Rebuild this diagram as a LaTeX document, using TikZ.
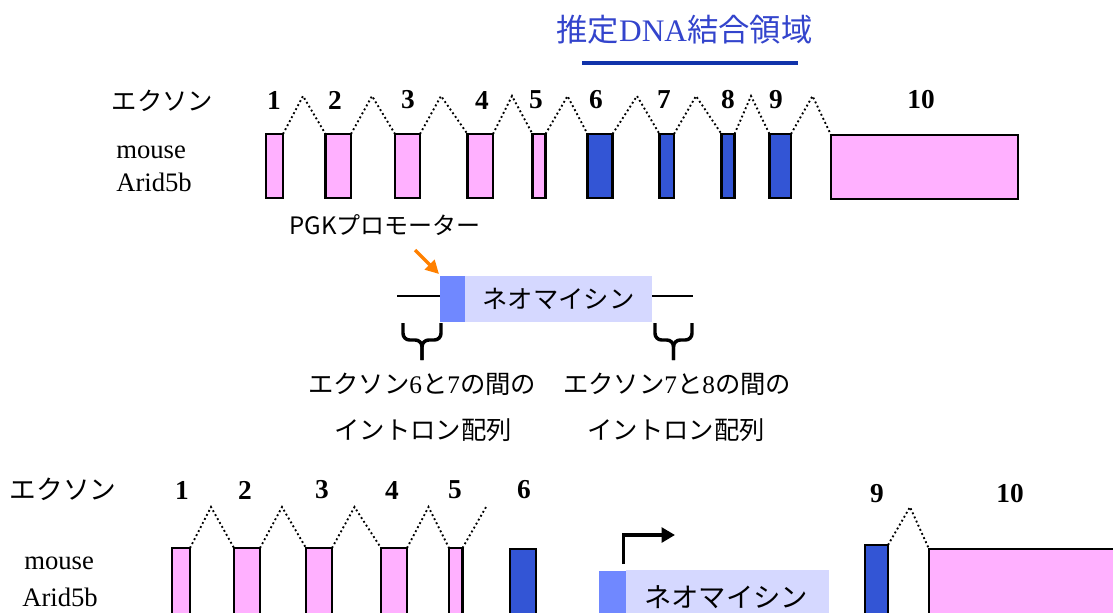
\documentclass[tikz,border=0pt]{standalone}
\usepackage{fontspec}
\setmainfont{Liberation Serif}
\newfontfamily\jp{Noto Sans CJK JP}
\usetikzlibrary{arrows.meta}
\definecolor{exonpink}{HTML}{FFB0FF}
\definecolor{exonblue}{HTML}{3355D5}
\definecolor{neodark}{HTML}{7088FF}
\definecolor{neolight}{HTML}{D5D8FF}
\definecolor{titleblue}{HTML}{3344CC}
\definecolor{lineblue}{HTML}{1133AA}
\definecolor{arroworange}{HTML}{FF8000}
\newcommand{\mkexon}[6]{\node[exon,fill=#6,minimum width={(#3-#2)*0.75pt},minimum height={(#5-#4)*0.75pt}] (#1) at ({(#2+#3)/2},{(#4+#5)/2}) {};}
\newcommand{\mkrect}[7]{\node[#7,minimum width={(#3-#2)*0.75pt},minimum height={(#5-#4)*0.75pt}] (#1) at ({(#2+#3)/2},{(#4+#5)/2}) {#6};}
\begin{document}
\begin{tikzpicture}[x=0.75pt,y=-0.75pt,
  exon/.style={draw=black,line width=1.9pt,inner sep=0pt,outer sep=0pt},
  intron/.style={line width=1.4pt,dash pattern=on 1.4pt off 2pt},
  num/.style={font=\bfseries\fontsize{20.5pt}{20pt}\selectfont,inner sep=0pt},
  jptext/.style={font=\jp\fontsize{19pt}{22pt}\selectfont,inner sep=0pt},
  latin/.style={font=\fontsize{20pt}{22pt}\selectfont,inner sep=0pt},
  neod/.style={fill=neodark,inner sep=0pt,outer sep=0pt},
  neol/.style={fill=neolight,inner sep=0pt,outer sep=0pt,font=\jp\fontsize{19pt}{22pt}\selectfont},
  bar/.style={line width=2.2pt},
  bracepart/.style={line width=2.6pt,rounded corners=5pt}]
\useasboundingbox (0,0) rectangle (1113,612);
\clip (0,0) rectangle (1113,612);

% title
\node[font=\fontsize{23.5pt}{26pt}\selectfont,text=titleblue,inner sep=0pt] (title) at (684.5,30) {{\jp 推定}DNA{\jp 結合領域}};
\coordinate (ul1) at (582,63);
\coordinate (ul2) at (798,63);
\draw[lineblue,line width=2.3pt] (ul1) -- (ul2);

% top row labels
\node[jptext] (exlabel1) at (162.5,101) {エクソン};
\node[latin,anchor=base west] (mouse1) at (116,158) {mouse};
\node[latin,anchor=base west] (arid1) at (116,191) {Arid5b};
\foreach \n/\x in {1/274,2/335,3/408,4/482,5/536,6/596,7/664,8/728,9/776,10/921}
  \node[num] (tn\n) at (\x,100) {\n};

% top exons
\mkexon{t1}{266}{283}{134}{198}{exonpink}
\mkexon{t2}{325.5}{351}{134}{198}{exonpink}
\mkexon{t3}{395}{420}{134}{198}{exonpink}
\mkexon{t4}{467.5}{493}{134}{198}{exonpink}
\mkexon{t5}{532.5}{545.5}{134}{198}{exonpink}
\mkexon{t6}{587.5}{612.5}{134}{198}{exonblue}
\mkexon{t7}{659.5}{674}{134}{198}{exonblue}
\mkexon{t8}{721.5}{734.5}{134}{198}{exonblue}
\mkexon{t9}{769.5}{791}{134}{198}{exonblue}
\mkexon{t10}{831}{1018}{135}{199}{exonpink}

\draw[intron] (t1.north east) -- (303,96) -- (t2.north west);
\draw[intron] (t2.north east) -- (372,96) -- (t3.north west);
\draw[intron] (t3.north east) -- (441,96) -- (t4.north west);
\draw[intron] (t4.north east) -- (512,96) -- (t5.north west);
\draw[intron] (t5.north east) -- (567.5,96) -- (t6.north west);
\draw[intron] (t6.north east) -- (637,96) -- (t7.north west);
\draw[intron] (t7.north east) -- (696,96) -- (t8.north west);
\draw[intron] (t8.north east) -- (751,96) -- (t9.north west);
\draw[intron] (t9.north east) -- (812.5,96) -- (t10.north west);

% PGK promoter construct
\node[jptext,font=\jp\fontsize{18pt}{20pt}\selectfont] (pgk) at (385,225) {PGKプロモーター};
\mkrect{nd}{440}{465}{276}{322}{}{neod}
\mkrect{nl}{465}{652}{276}{322}{ネオマイシン}{neol}
\coordinate (ll) at (397,296);
\coordinate (rl) at (693,296);
\draw[bar] (ll) -- (nd.west |- ll);
\draw[bar] (nl.east |- rl) -- (rl);
\coordinate (oa) at (415,250);
\draw[arroworange,line width=2.5pt,-{Triangle[length=10pt,width=10pt]}] (oa) -- (439,274);

% braces
\draw[bracepart] (403,323) -- (403,340) -- (422,340) -- (422,360);
\draw[bracepart] (441,323) -- (441,340) -- (422,340) -- (422,360);
\draw[bracepart] (655,323) -- (655,340) -- (673.5,340) -- (673.5,360);
\draw[bracepart] (692,323) -- (692,340) -- (673.5,340) -- (673.5,360);

\node[jptext] (lbl1a) at (422,384) {エクソン{\rmfamily 6}と{\rmfamily 7}の間の};
\node[jptext] (lbl1b) at (423,430) {イントロン配列};
\node[jptext] (lbl2a) at (677,384) {エクソン{\rmfamily 7}と{\rmfamily 8}の間の};
\node[jptext] (lbl2b) at (676,430) {イントロン配列};

% bottom row
\node[jptext,font=\jp\fontsize{20pt}{22pt}\selectfont] (exlabel2) at (63,489) {エクソン};
\node[latin,anchor=base west] (mouse2) at (24,569) {mouse};
\node[latin,anchor=base west] (arid2) at (22,606) {Arid5b};
\foreach \n/\x in {1/182,2/245,3/322,4/392,5/455,6/524}
  \node[num] (bn\n) at (\x,490) {\n};
\node[num] (bn9) at (877,494) {9};
\node[num] (bn10) at (1010,494) {10};

\mkexon{b1}{172}{190}{548}{630}{exonpink}
\mkexon{b2}{234}{260}{548}{630}{exonpink}
\mkexon{b3}{306}{332}{548}{630}{exonpink}
\mkexon{b4}{381}{407}{548}{630}{exonpink}
\mkexon{b5}{449}{462.5}{548}{630}{exonpink}
\mkexon{b6}{510}{536}{549}{630}{exonblue}
\mkexon{b9}{865}{888}{545}{630}{exonblue}
\mkexon{b10}{929}{1130}{549}{630}{exonpink}

\coordinate (bend) at (486,507);
\draw[intron] (b1.north east) -- (211,507) -- (b2.north west);
\draw[intron] (b2.north east) -- (282,507) -- (b3.north west);
\draw[intron] (b3.north east) -- (354.5,507) -- (b4.north west);
\draw[intron] (b4.north east) -- (428.5,507) -- (b5.north west);
\draw[intron] (b5.north east) -- (bend);
\draw[intron] (b9.north east) -- (910,507) -- (b10.north west);

\mkrect{nd2}{599}{626}{571}{630}{}{neod}
\mkrect{nl2}{626}{829}{570}{630}{}{neol}
\node[jptext,font=\jp\fontsize{20.5pt}{22pt}\selectfont] (neotext2) at (726,597) {ネオマイシン};
\coordinate (pa) at (623.5,564);
\coordinate (pb) at (675,535);
\draw[line width=2.5pt,-{Triangle[length=10pt,width=11pt]}] (pa) |- (pb);
\end{tikzpicture}
\end{document}
